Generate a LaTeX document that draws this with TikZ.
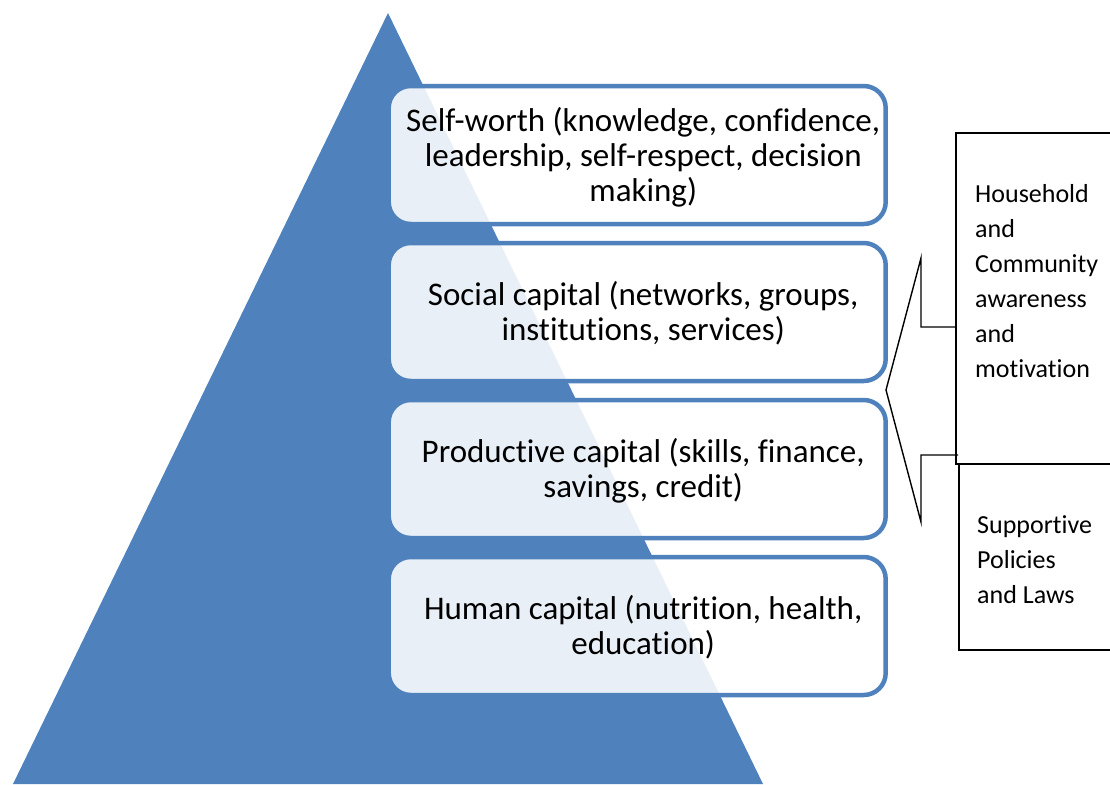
\documentclass[tikz,border=0pt]{standalone}
\usepackage{fontspec}
\setmainfont{Carlito}[RawFeature={-liga}]
\definecolor{triblue}{HTML}{4F81BD}
\begin{document}
\begin{tikzpicture}[x=1pt,y=-1pt,
  capbox/.style={draw=triblue, line width=4.5pt, rounded corners=22pt, fill=white, fill opacity=0.88,
    minimum width=497pt, minimum height=138pt, inner sep=0pt},
  captext/.style={align=center, inner sep=0pt, xshift=6pt, yshift=-1.5pt, font=\fontsize{33}{35}\selectfont},
  sidebox/.style={draw=black, line width=2pt, anchor=north west, inner sep=0pt},
  sidetext/.style={align=left, anchor=north west, inner sep=0pt, font=\fontsize{26}{35}\selectfont},
  callout/.style={draw=black, line width=1.4pt, line join=miter}]
\useasboundingbox (0,0) rectangle (1110,784);
\clip (0,0) rectangle (1110,784);
% triangle
\fill[triblue] (388,13) -- (13,784) -- (763,784) -- cycle;
% capital boxes
\node[capbox] (self) at (637.2,155) {};
\node[capbox] (social) at (637.2,312) {};
\node[capbox] (prod) at (637.2,469) {};
\node[capbox] (human) at (637.2,626) {};
\node[captext] (selftext) at ([yshift=-0.5pt]self.center) {Self-worth (knowledge, confidence,\\leadership, self-respect, decision\\making)};
\node[captext] (socialtext) at (social.center) {Social capital (networks, groups,\\institutions, services)};
\node[captext] (prodtext) at (prod.center) {Productive capital (skills, finance,\\savings, credit)};
\node[captext] (humantext) at (human.center) {Human capital (nutrition, health,\\education)};
% side boxes
\node[sidebox, minimum width=175pt, minimum height=331pt] (house) at (955,132) {};
\node[sidebox, minimum width=175pt, minimum height=186pt] (policy) at (958,463) {};
\node[sidetext] (housetext) at (975,184) {Household\\and\\Community\\awareness\\and\\motivation};
\node[sidetext] (policytext) at (977,515) {Supportive\\Policies\\and Laws};
% callout pointer
\coordinate (c1) at (house.west |- 0,327);
\coordinate (c2) at (921,327);
\coordinate (c3) at (921,258);
\coordinate (tip) at (886,390);
\coordinate (c4) at (921,522);
\coordinate (c5) at (921,455);
\coordinate (c6) at (policy.west |- 0,455);
\draw[callout] (c1) -- (c2) -- (c3) -- (tip) -- (c4) -- (c5) -- (c6);
\end{tikzpicture}
\end{document}
